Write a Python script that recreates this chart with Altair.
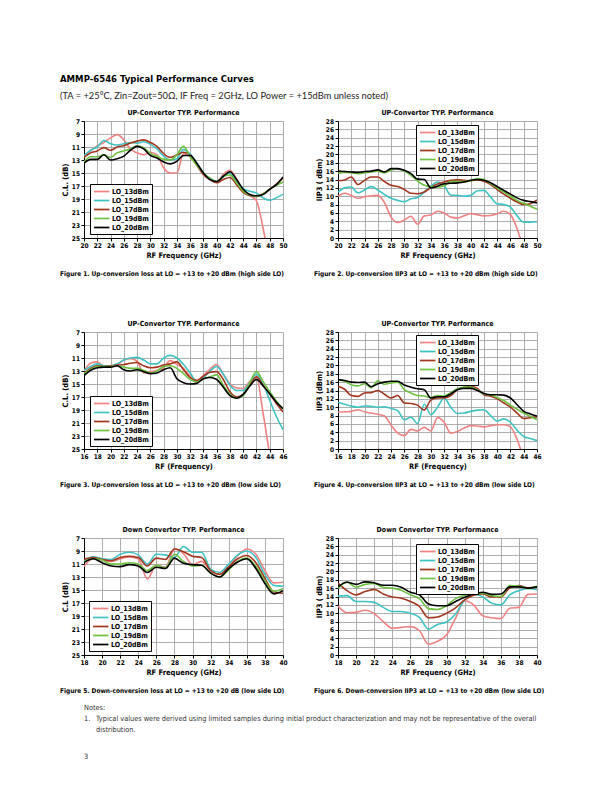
import altair as alt
import pandas as pd

SERIES = ["LO_13dBm", "LO_15dBm", "LO_17dBm", "LO_19dBm", "LO_20dBm"]
COLORS = ["#F08282", "#3EC2C4", "#A2361F", "#6CC13F", "#000000"]

FONT_N = "Liberation Sans Narrow, DejaVu Sans Condensed, DejaVu Sans, sans-serif"
FONT_R = "Lato, Open Sans, sans-serif"

# ---------------- Figure 1: up-conversion loss, high side LO ----------------
P1_FREQ = list(range(20, 51))
P1_LO13 = [12.5, 11.6, 10.8, 10.3, 9.6, 9.1, 9.9, 11.3, 11.9, 12.2, 11.8, 12.2, 14.2, 15.0, 15.0, 12.0,
           12.5, 13.8, 15.3, 16.0, 16.4, 15.2, 14.6, 15.9, 17.6, 18.4, 19.3, 23.5, 29.0, None, None]
P1_LO15 = [12.3, 11.5, 11.0, 10.0, 10.5, 10.7, 10.5, 10.3, 10.4, 10.2, 10.6, 11.3, 12.4, 13.0, 12.8, 11.4,
           12.1, 13.4, 15.0, 16.0, 16.4, 15.6, 15.0, 16.2, 17.4, 17.8, 18.1, 18.8, 19.2, 18.8, 18.3]
P1_LO17 = [12.6, 11.9, 11.6, 11.1, 11.5, 11.0, 10.8, 10.4, 10.1, 9.9, 10.3, 10.9, 12.0, 12.6, 12.2, 11.8,
           12.2, 13.7, 15.2, 16.0, 16.5, 16.0, 15.7, 16.8, 18.0, 18.5, 18.6, 18.2, 17.5, 16.7, 15.8]
P1_LO19 = [13.3, 12.5, 12.5, 12.2, 12.6, 11.9, 11.6, 11.3, 10.8, 11.1, 12.0, 12.4, 12.9, 13.0, 12.2, 10.9,
           12.5, 13.8, 15.0, 15.8, 16.3, 15.5, 15.3, 16.5, 17.8, 18.4, 18.6, 18.2, 17.5, 16.9, 16.4]
P1_LO20 = [13.5, 12.9, 12.9, 12.2, 13.0, 12.8, 12.4, 11.5, 10.9, 11.3, 12.3, 12.7, 13.3, 13.6, 13.2, 12.3,
           12.3, 13.5, 15.0, 16.0, 16.3, 15.5, 14.8, 16.0, 17.5, 18.3, 18.5, 18.3, 17.5, 16.8, 15.6]

# ---------------- Figure 2: up-conversion IIP3, high side LO ----------------
P2_FREQ = list(range(20, 51))
P2_LO13 = [10.0, 10.7, 10.2, 9.5, 9.9, 10.1, 10.2, 8.5, 5.0, 3.7, 4.3, 5.2, 3.3, 5.3, 5.5, 6.4,
           6.0, 5.0, 4.8, 5.3, 5.8, 5.6, 5.3, 5.4, 5.8, 6.4, 5.6, 2.2, -3.0, None, None]
P2_LO15 = [11.0, 12.0, 12.2, 10.8, 11.5, 12.3, 11.5, 10.4, 9.5, 9.0, 8.7, 9.4, 9.7, 11.0, 12.4, 13.4,
           12.5, 10.3, 10.2, 10.0, 10.2, 11.3, 11.4, 9.8, 8.2, 8.0, 7.4, 5.3, 3.8, 3.8, 3.9]
P2_LO17 = [13.7, 13.9, 14.6, 12.8, 13.8, 14.6, 14.6, 13.5, 12.6, 12.3, 11.6, 10.7, 10.6, 11.0, 12.1, 12.9,
           13.4, 13.8, 13.9, 13.8, 13.7, 13.9, 13.6, 12.8, 11.6, 10.5, 9.5, 8.6, 8.0, 8.2, 9.1]
P2_LO19 = [15.5, 15.7, 15.6, 15.4, 15.6, 15.8, 16.0, 15.6, 16.3, 16.5, 16.0, 15.0, 13.6, 12.6, 12.3, 12.2,
           12.5, 13.5, 13.5, 13.5, 13.7, 14.2, 14.0, 13.0, 12.0, 11.0, 10.0, 9.0, 8.3, 7.6, 6.9]
P2_LO20 = [16.0, 15.9, 15.8, 15.7, 15.9, 16.0, 16.3, 15.8, 16.6, 16.6, 16.2, 15.4, 14.1, 14.0, 12.0, 12.4,
           13.0, 13.1, 13.2, 13.4, 13.8, 14.0, 13.8, 13.2, 12.3, 11.4, 10.5, 9.6, 9.0, 8.7, 8.4]

# ---------------- Figure 3: up-conversion loss, low side LO ----------------
P3_FREQ = list(range(16, 47))
P3_LO13 = [13.0, 11.8, 11.6, 12.3, 12.3, 12.1, 11.3, 11.1, 11.5, 13.3, 13.1, 12.9, 12.5, 11.4, 12.0, 12.6,
           13.8, 14.4, 13.7, 12.7, 12.0, 13.5, 15.0, 15.6, 15.7, 14.6, 14.0, 19.5, 26.0, None, None]
P3_LO15 = [12.9, 12.3, 11.9, 12.2, 12.2, 11.9, 11.3, 11.0, 10.9, 11.3, 11.9, 11.9, 11.0, 10.6, 11.0, 12.0,
           13.3, 14.6, 14.0, 13.0, 12.3, 13.5, 15.2, 16.0, 16.0, 14.8, 13.5, 15.0, 17.5, 20.0, 22.0]
P3_LO17 = [13.3, 12.6, 12.2, 12.3, 12.2, 12.1, 12.0, 11.8, 11.7, 12.2, 12.5, 12.4, 12.1, 11.9, 11.6, 12.8,
           14.0, 14.5, 13.8, 13.2, 13.1, 14.3, 16.2, 17.0, 16.6, 15.2, 13.9, 15.2, 16.5, 18.0, 19.3]
P3_LO19 = [13.4, 12.8, 12.3, 12.3, 12.3, 12.2, 12.4, 12.6, 12.6, 12.9, 13.3, 13.0, 12.3, 12.2, 12.6, 13.4,
           14.3, 14.7, 14.2, 13.9, 13.6, 15.2, 16.6, 17.2, 16.8, 14.8, 13.1, 14.6, 16.2, 17.6, 18.9]
P3_LO20 = [13.7, 12.9, 12.5, 12.4, 12.4, 12.2, 12.8, 13.0, 12.8, 13.1, 13.4, 13.3, 12.8, 12.5, 14.2, 14.8,
           15.0, 14.9, 14.2, 14.0, 14.3, 15.5, 16.8, 17.2, 16.6, 15.3, 14.3, 15.3, 16.5, 17.8, 18.8]

# ---------------- Figure 4: up-conversion IIP3, low side LO ----------------
P4_FREQ = list(range(16, 47))
P4_LO13 = [8.8, 8.9, 9.0, 9.4, 8.9, 8.6, 8.3, 7.9, 5.7, 3.8, 3.2, 4.7, 4.3, 5.2, 4.3, 7.5,
           6.4, 3.8, 4.2, 5.0, 5.6, 5.5, 5.3, 5.6, 5.8, 5.8, 5.3, 2.3, -2.5, None, None]
P4_LO15 = [11.2, 10.7, 10.3, 10.0, 10.3, 10.2, 10.0, 10.1, 9.7, 9.2, 7.0, 7.6, 6.1, 10.7, 8.2, 10.0,
           12.2, 10.0, 8.5, 8.6, 9.0, 9.3, 9.4, 8.0, 6.7, 7.2, 6.4, 4.5, 3.0, 2.5, 2.0]
P4_LO17 = [15.0, 14.3, 12.8, 12.6, 13.4, 13.5, 14.0, 13.1, 12.2, 12.8, 11.0, 10.9, 10.5, 9.3, 11.7, 12.2,
           12.2, 12.8, 14.2, 14.7, 15.0, 14.5, 13.0, 12.6, 12.0, 11.0, 10.0, 8.6, 7.3, 7.5, 7.7]
P4_LO19 = [16.5, 16.2, 15.4, 15.1, 15.6, 14.7, 16.3, 15.5, 15.8, 16.0, 14.2, 13.4, 12.8, 12.7, 12.3, 12.8,
           12.7, 13.5, 14.4, 14.8, 14.8, 14.1, 13.2, 12.9, 12.3, 11.6, 10.5, 9.5, 8.6, 7.8, 7.0]
P4_LO20 = [16.6, 16.4, 16.0, 15.9, 16.0, 14.9, 15.6, 16.0, 16.2, 16.2, 15.3, 14.8, 14.4, 14.2, 12.2, 12.5,
           12.5, 13.2, 14.2, 14.5, 14.5, 14.0, 13.3, 13.0, 13.0, 12.9, 12.2, 10.6, 9.0, 8.4, 7.9]

# ---------------- Figure 5: down-conversion loss, low side LO ----------------
P5_FREQ = list(range(18, 41))
P5_LO13 = [11.4, 10.2, 10.4, 10.6, 10.2, 9.9, 10.2, 13.3, 11.2, 11.5, 8.7, 9.4, 11.1, 10.6, 12.0, 12.6,
           11.5, 9.7, 8.7, 9.5, 12.0, 13.9, 13.8]
P5_LO15 = [10.5, 9.9, 10.2, 10.3, 9.5, 9.2, 9.6, 11.0, 9.5, 9.6, 10.0, 8.3, 9.2, 9.2, 11.8, 12.3,
           11.0, 9.6, 9.0, 10.0, 12.6, 14.3, 14.4]
P5_LO17 = [10.3, 10.0, 10.3, 10.5, 10.0, 9.8, 10.0, 11.3, 10.1, 10.3, 8.7, 9.1, 9.8, 10.0, 12.0, 12.6,
           11.4, 10.2, 9.7, 10.8, 13.2, 15.3, 15.5]
P5_LO19 = [10.6, 10.2, 10.4, 11.0, 11.0, 10.8, 11.0, 12.0, 11.2, 11.6, 9.5, 10.6, 11.3, 11.2, 12.4, 13.0,
           11.9, 10.6, 10.1, 11.4, 13.6, 15.2, 14.8]
P5_LO20 = [10.8, 10.2, 10.8, 11.3, 11.4, 11.1, 11.3, 12.3, 11.5, 11.7, 10.1, 10.9, 11.1, 11.2, 12.4, 13.0,
           11.7, 10.7, 10.2, 11.7, 14.0, 15.6, 15.1]

# ---------------- Figure 6: down-conversion IIP3, low side LO ----------------
P6_FREQ = list(range(18, 41))
P6_LO13 = [11.7, 10.1, 10.2, 10.7, 9.9, 8.0, 6.4, 6.6, 6.8, 5.8, 2.6, 3.3, 4.8, 8.8, 13.0, 12.0,
           9.4, 8.9, 8.7, 11.2, 11.4, 14.5, 14.6]
P6_LO15 = [14.1, 14.2, 12.8, 12.8, 12.6, 11.4, 10.4, 10.4, 10.0, 9.0, 6.2, 7.3, 7.9, 9.8, 13.2, 14.6,
           13.9, 12.4, 12.0, 14.4, 15.4, 15.9, 15.6]
P6_LO17 = [17.2, 15.4, 14.4, 15.2, 15.7, 14.6, 13.9, 13.6, 12.8, 11.6, 8.9, 9.1, 10.0, 11.3, 13.2, 14.3,
           14.6, 13.9, 13.9, 16.1, 16.6, 16.1, 16.2]
P6_LO19 = [15.9, 17.5, 16.2, 16.9, 17.1, 16.2, 16.0, 15.5, 14.4, 13.5, 11.1, 10.9, 11.8, 13.5, 14.3, 14.6,
           14.8, 14.2, 14.0, 16.6, 16.5, 15.9, 16.5]
P6_LO20 = [16.3, 17.4, 16.9, 17.5, 17.3, 16.7, 16.7, 16.2, 15.0, 14.4, 12.2, 11.8, 11.8, 12.8, 13.8, 14.6,
           15.0, 14.5, 14.6, 16.3, 16.3, 16.0, 16.3]

PAGE_TITLE = "AMMP-6546 Typical Performance Curves"
PAGE_SUB = "(TA = +25°C, Zin=Zout=50Ω, IF Freq = 2GHz, LO Power = +15dBm unless noted)"
UP_T = "UP-Convertor TYP. Performance"
DN_T = "Down Convertor TYP. Performance"
CAPTIONS = [
    "Figure 1. Up-conversion loss at LO = +13 to +20 dBm (high side LO)",
    "Figure 2. Up-conversion IIP3 at LO = +13 to +20 dBm (high side LO)",
    "Figure 3. Up-conversion loss at LO = +13 to +20 dBm (low side LO)",
    "Figure 4. Up-conversion IIP3 at LO = +13 to +20 dBm (low side LO)",
    "Figure 5. Down-conversion loss at LO = +13 to +20 dB (low side LO)",
    "Figure 6. Down-conversion IIP3 at LO = +13 to +20 dBm (low side LO)",
]
NOTE_HEAD = "Notes:"
NOTE_NUM = "1."
NOTE_1 = ("Typical values were derived using limited samples during initial product "
          "characterization and may not be representative of the overall")
NOTE_2 = "distribution."
PAGE_NUM = "3"

W, H = 199, 117


def long_df(freq, vals):
    rows = []
    for name, series in zip(SERIES, vals):
        for f, v in zip(freq, series):
            if v is not None:
                rows.append({"f": f, "v": v, "s": name})
    return pd.DataFrame(rows)


def panel(freq, vals, xdom, ydom, cl, title, xtitle, ytitle, caption, lx, ly):
    df = long_df(freq, vals)
    xaxis = alt.Axis(values=list(range(xdom[0], xdom[1] + 1, 2)), title=xtitle)
    yaxis = alt.Axis(values=list(range(ydom[0], ydom[1] + 1, 2)), title=ytitle)
    if cl:
        yscale = alt.Scale(domain=ydom, nice=False, zero=False, reverse=True)
    else:
        yscale = alt.Scale(domain=ydom, nice=False, zero=False)
    legend = alt.Legend(orient="none", legendX=lx, legendY=ly, title=None,
                        strokeColor="black", fillColor="white", padding=3,
                        labelFont=FONT_N, labelFontSize=7, labelFontWeight="bold",
                        labelColor="black", symbolType="M-1,0H3.4", symbolStrokeWidth=1.7,
                        symbolSize=49, rowPadding=1, labelOffset=10)
    lines = alt.Chart(df).mark_line(interpolate="monotone", clip=True, strokeWidth=1.6).encode(
        x=alt.X("f:Q", scale=alt.Scale(domain=xdom, nice=False, zero=False), axis=xaxis),
        y=alt.Y("v:Q", scale=yscale, axis=yaxis),
        color=alt.Color("s:N", scale=alt.Scale(domain=SERIES, range=COLORS), legend=legend),
    )
    cap = alt.Chart(pd.DataFrame({"t": [caption]})).mark_text(
        align="left", baseline="middle", font=FONT_N, fontSize=6.5, fontWeight="bold", color="black"
    ).encode(x=alt.value(-24), y=alt.value(H + 36), text="t:N")
    return alt.layer(lines, cap).properties(
        width=W, height=H,
        title=alt.TitleParams(title, font=FONT_N, fontSize=7, fontWeight="bold", color="black",
                              offset=2, anchor="middle"))


p1 = panel(P1_FREQ, [P1_LO13, P1_LO15, P1_LO17, P1_LO19, P1_LO20], [20, 50], [7, 25], True,
           UP_T, "RF Frequency (GHz)", "C.L. (dB)", CAPTIONS[0], 6, 63)
p2 = panel(P2_FREQ, [P2_LO13, P2_LO15, P2_LO17, P2_LO19, P2_LO20], [20, 50], [0, 28], False,
           UP_T, "RF Frequency (GHz)", "IIP3 ( dBm)", CAPTIONS[1], 78, 4)
p3 = panel(P3_FREQ, [P3_LO13, P3_LO15, P3_LO17, P3_LO19, P3_LO20], [16, 46], [7, 25], True,
           UP_T, "RF (Frequency)", "C.L. (dB)", CAPTIONS[2], 6, 64)
p4 = panel(P4_FREQ, [P4_LO13, P4_LO15, P4_LO17, P4_LO19, P4_LO20], [16, 46], [0, 28], False,
           UP_T, "RF (Frequency)", "IIP3  (dBm)", CAPTIONS[3], 78, 3)
p5 = panel(P5_FREQ, [P5_LO13, P5_LO15, P5_LO17, P5_LO19, P5_LO20], [18, 40], [7, 25], True,
           DN_T, "RF Frequency (GHz)", "C.L (dB)", CAPTIONS[4], 5, 63)
p6 = panel(P6_FREQ, [P6_LO13, P6_LO15, P6_LO17, P6_LO19, P6_LO20], [18, 40], [0, 28], False,
           DN_T, "RF Frequency (GHz)", "IIP3 ( dBm)", CAPTIONS[5], 78, 6)


def note_text(txt, x, y):
    return alt.Chart(pd.DataFrame({"t": [txt]})).mark_text(
        align="left", baseline="middle", font=FONT_N, fontSize=7.3, color="#333333"
    ).encode(x=alt.value(x), y=alt.value(y), text="t:N")


notes = alt.layer(
    note_text(NOTE_HEAD, 0, 5),
    note_text(NOTE_NUM, 0, 16),
    note_text(NOTE_1, 12, 16),
    note_text(NOTE_2, 12, 27),
    note_text(PAGE_NUM, 0, 54),
).properties(width=470, height=58)


def ind(c):
    return c.resolve_scale(x="independent", y="independent", color="independent").resolve_legend(
        color="independent")


row1 = ind(alt.hconcat(p1, p2, spacing=26))
row2 = ind(alt.hconcat(p3, p4, spacing=26))
row3 = ind(alt.hconcat(p5, p6, spacing=26))

inner3 = ind(alt.vconcat(row3, notes, spacing=8))
inner2 = ind(alt.vconcat(row2, inner3, spacing=37))
chart = ind(alt.vconcat(row1, inner2, spacing=42)).properties(
    title=alt.TitleParams(PAGE_TITLE, subtitle=PAGE_SUB, anchor="start", font=FONT_N, fontSize=9.5,
                          fontWeight="bold", color="black", subtitleFont=FONT_R, subtitleFontSize=9.3,
                          subtitleColor="#222222", subtitlePadding=8.5, offset=8),
    padding={"left": 52, "top": 65, "right": 5, "bottom": 5},
).configure_view(strokeWidth=0).configure_axis(
    labelFont=FONT_N, labelFontSize=6.5, labelFontWeight="bold", labelColor="black",
    titleFont=FONT_N, titleFontSize=7.5, titleFontWeight="bold", titleColor="black",
    gridColor="#999999", gridWidth=0.8, domainColor="black", domainWidth=1,
    tickColor="black", tickSize=3, labelPadding=1.5, titlePadding=2,
    labelFlush=False, labelOverlap=False,
).configure_concat(spacing=26)

chart.save("out.html", embed_options={"renderer": "svg", "actions": False})
